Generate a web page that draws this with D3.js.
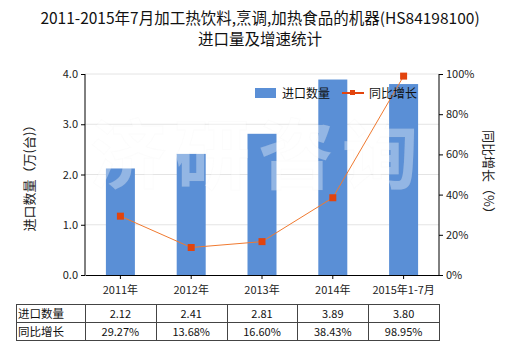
<!DOCTYPE html>
<html><head><meta charset="utf-8">
<script src="https://cdn.jsdelivr.net/npm/d3@7"></script>
<style>body{margin:0;background:#fff;font-family:"Noto Sans CJK SC","Microsoft YaHei",sans-serif;}</style>
</head><body><svg id="c" width="520" height="350"></svg>
<script>
const categories = ["2011年","2012年","2013年","2014年","2015年1-7月"];
const volume = [2.12, 2.41, 2.81, 3.89, 3.80];
const growth = [29.27, 13.68, 16.60, 38.43, 98.95];
const volumeLabels = ["2.12","2.41","2.81","3.89","3.80"];
const growthLabels = ["29.27%","13.68%","16.60%","38.43%","98.95%"];
const leftTicks = [0,1,2,3,4];
const rightTicks = [0,20,40,60,80,100];

const svg = d3.select("#c");
const font = "'Noto Sans CJK SC', sans-serif";
const L = 85, R = 439, T = 74, B = 275;
const xc = d3.scaleBand().domain(categories).range([L, R]);
const y = d3.scaleLinear().domain([0, 4]).range([B, T]);
const y2 = d3.scaleLinear().domain([0, 100]).range([B, T]);

// title
svg.append("text").attr("x", 260).attr("y", 24).attr("text-anchor", "middle")
  .attr("font-family", font).attr("font-size", 15.5).attr("fill", "#111")
  .text("2011-2015年7月加工热饮料,烹调,加热食品的机器(HS84198100)");
svg.append("text").attr("x", 260).attr("y", 45).attr("text-anchor", "middle")
  .attr("font-family", font).attr("font-size", 15.5).attr("fill", "#111")
  .text("进口量及增速统计");

// grid
svg.append("g").selectAll("line").data(leftTicks.slice(1)).join("line")
  .attr("x1", L).attr("x2", R).attr("y1", d => y(d)).attr("y2", d => y(d))
  .attr("stroke", "#e4e4e4").attr("stroke-width", 1);

// bars
svg.append("g").selectAll("rect").data(volume).join("rect")
  .attr("x", (d, i) => xc(categories[i]) + xc.bandwidth() / 2 - 14.5)
  .attr("width", 29)
  .attr("y", d => y(d)).attr("height", d => B - y(d))
  .attr("fill", "#5a8fd6");

// watermark
svg.append("text").attr("x", 258).attr("y", 183).attr("text-anchor", "middle")
  .attr("font-family", font).attr("font-weight", "bold").attr("font-size", 76)
  .attr("letter-spacing", 8)
  .attr("fill", "rgba(255,255,255,0.35)").attr("stroke", "rgba(200,200,200,0.06)")
  .text("济研咨询");

// axes
const axL = svg.append("g").attr("transform", `translate(${L},0)`)
  .call(d3.axisLeft(y).tickValues(leftTicks).tickFormat(d3.format(".1f")).tickSize(4));
const axR = svg.append("g").attr("transform", `translate(${R},0)`)
  .call(d3.axisRight(y2).tickValues(rightTicks).tickFormat(d => d + "%").tickSize(4));
const axB = svg.append("g").attr("transform", `translate(0,${B})`)
  .call(d3.axisBottom(xc).tickSize(4).tickSizeOuter(0));
[axL, axR, axB].forEach(a => {
  a.selectAll("path,line").attr("stroke", "#000");
  a.selectAll("text").attr("font-family", font).attr("font-size", 11).attr("fill", "#222");
});
axL.select(".domain").attr("d", `M0,${T}V${B}`);
axR.select(".domain").attr("d", `M0,${T}V${B}`);
axB.selectAll("text").attr("dy", "1.05em");

// line
const line = d3.line().x((d, i) => xc(categories[i]) + xc.bandwidth() / 2).y(d => y2(d));
svg.append("path").datum(growth).attr("d", line).attr("fill", "none")
  .attr("stroke", "#f07a30").attr("stroke-width", 1);
svg.append("g").selectAll("rect").data(growth).join("rect")
  .attr("x", (d, i) => xc(categories[i]) + xc.bandwidth() / 2 - 3.5)
  .attr("y", d => y2(d) - 3.5).attr("width", 7).attr("height", 7)
  .attr("fill", "#e2440e");

// axis titles
svg.append("text").attr("transform", "translate(34,175) rotate(-90)").attr("text-anchor", "middle")
  .attr("font-family", font).attr("font-size", 13).attr("fill", "#222").text("进口数量（万(台)）");
svg.append("text").attr("transform", "translate(484,175) rotate(90)").attr("text-anchor", "middle")
  .attr("font-family", font).attr("font-size", 13).attr("fill", "#222").text("同比增长（%）");

// legend
svg.append("rect").attr("x", 255).attr("y", 88).attr("width", 21).attr("height", 10).attr("fill", "#5a8fd6");
svg.append("text").attr("x", 282).attr("y", 97.5).attr("font-family", font).attr("font-size", 12).attr("fill", "#111").text("进口数量");
svg.append("line").attr("x1", 342).attr("x2", 364).attr("y1", 93).attr("y2", 93).attr("stroke", "#e2440e").attr("stroke-width", 2);
svg.append("rect").attr("x", 350).attr("y", 90).attr("width", 5).attr("height", 5).attr("fill", "#e2440e");
svg.append("text").attr("x", 369).attr("y", 97.5).attr("font-family", font).attr("font-size", 12).attr("fill", "#111").text("同比增长");

// table
const tT = 304, tM = 322, tB = 340, tL = 16;
const tg = svg.append("g").attr("stroke", "#444").attr("stroke-width", 1).attr("fill", "none");
[tT, tM, tB].forEach(yy => tg.append("line").attr("x1", tL).attr("x2", R).attr("y1", yy + 0.5).attr("y2", yy + 0.5));
tg.append("line").attr("x1", tL + 0.5).attr("x2", tL + 0.5).attr("y1", tT).attr("y2", tB + 1);
categories.forEach(c => tg.append("line").attr("x1", Math.round(xc(c)) + 0.5).attr("x2", Math.round(xc(c)) + 0.5).attr("y1", tT).attr("y2", tB + 1));
tg.append("line").attr("x1", R + 0.5).attr("x2", R + 0.5).attr("y1", tT).attr("y2", tB + 1);
const rows = [["进口数量", volumeLabels, tT], ["同比增长", growthLabels, tM]];
rows.forEach(([name, vals, yy]) => {
  svg.append("text").attr("x", 18).attr("y", yy + 13.5).attr("font-family", font).attr("font-size", 11.5).attr("fill", "#111").text(name);
  vals.forEach((v, i) => svg.append("text").attr("x", xc(categories[i]) + xc.bandwidth() / 2).attr("y", yy + 13.5)
    .attr("text-anchor", "middle").attr("font-family", font).attr("font-size", 11).attr("fill", "#111").text(v));
});
</script></body></html>
